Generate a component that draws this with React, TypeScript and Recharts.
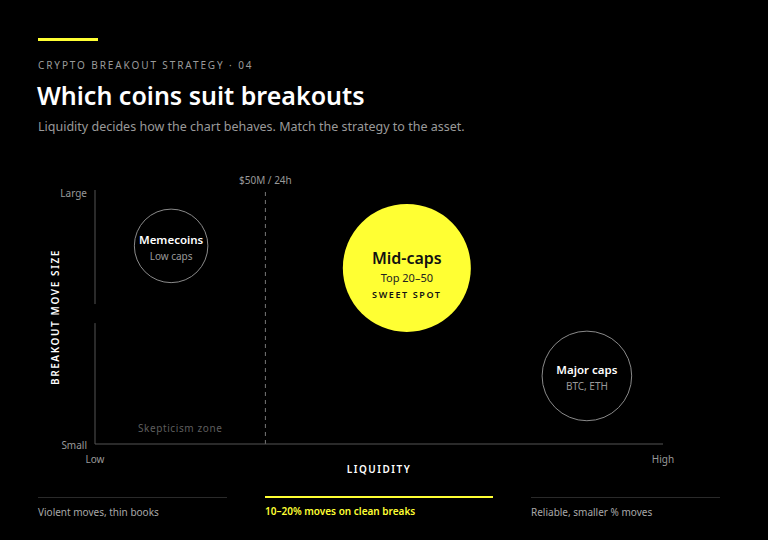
import {
  ScatterChart,
  Scatter,
  XAxis,
  YAxis,
  ZAxis,
  ReferenceLine,
  ReferenceDot,
} from 'recharts';

// Bubble data: liquidity (x), breakout move size (y), strategy fit (bubble area)
const segments = ['Memecoins', 'Mid-caps', 'Major caps'];
const segmentNotes = ['Low caps', 'Top 20–50', 'BTC, ETH'];
const liquidity = [13.4, 54.9, 86.6];
const moveSize = [78, 69.3, 26.8];
const fitScore = [33, 100, 49];

const xTickLabels = ['Low', 'High'];
const yTickLabels = ['Small', 'Large'];
const threshold = 30;
const thresholdLabel = '$50M / 24h';
const zoneLabel = 'Skepticism zone';
const footnotes = ['Violent moves, thin books', '10–20% moves on clean breaks', 'Reliable, smaller % moves'];

const YELLOW = '#ffff33';
const FONT = '"Noto Sans", "Open Sans", sans-serif';

const data = segments.map((name, i) => ({
  name,
  note: segmentNotes[i],
  x: liquidity[i],
  y: moveSize[i],
  z: fitScore[i],
}));

function Bubble(props: any) {
  const { cx, cy, width, payload } = props;
  const r = width / 2;
  const featured = payload.name === 'Mid-caps';
  if (featured) {
    return (
      <g>
        <circle cx={cx} cy={cy} r={r} fill={YELLOW} />
        <text x={cx} y={cy - 4} textAnchor="middle" fill="#111" fontSize={16} fontWeight={600} fontFamily={FONT}>
          {payload.name}
        </text>
        <text x={cx} y={cy + 14} textAnchor="middle" fill="#222" fontSize={11} fontFamily={FONT}>
          {payload.note}
        </text>
        <text x={cx} y={cy + 30} textAnchor="middle" fill="#111" fontSize={9} fontWeight={600} letterSpacing={1.6} fontFamily={FONT}>
          SWEET SPOT
        </text>
      </g>
    );
  }
  return (
    <g>
      <circle cx={cx} cy={cy} r={r} fill="#000" stroke="#8a8a8a" strokeWidth={1} />
      <text x={cx} y={cy - 2} textAnchor="middle" fill="#fff" fontSize={11.5} fontWeight={600} fontFamily={FONT}>
        {payload.name}
      </text>
      <text x={cx} y={cy + 14} textAnchor="middle" fill="#999" fontSize={10} fontFamily={FONT}>
        {payload.note}
      </text>
    </g>
  );
}

function XTick({ x, y, payload, index }: any) {
  return (
    <text x={x} y={y + 19} textAnchor="middle" fill="#999" fontSize={10} fontFamily={FONT}>
      {xTickLabels[index] ?? payload.value}
    </text>
  );
}

function YTick({ x, y, payload, index }: any) {
  return (
    <text x={x - 8} y={y + (index === 1 ? 7 : 5)} textAnchor="end" fill="#999" fontSize={10} fontFamily={FONT}>
      {yTickLabels[index] ?? payload.value}
    </text>
  );
}

export default function App() {
  return (
    <div
      style={{
        position: 'absolute',
        left: 0,
        top: 0,
        width: 768,
        height: 540,
        background: '#000',
        fontFamily: FONT,
        overflow: 'hidden',
      }}
    >
      <div style={{ position: 'absolute', left: 38, top: 38, width: 60, height: 3, background: YELLOW }} />
      <div
        style={{
          position: 'absolute',
          left: 38,
          top: 58,
          fontSize: 10,
          letterSpacing: 1.9,
          color: '#9a9a9a',
        }}
      >
        CRYPTO BREAKOUT STRATEGY · 04
      </div>
      <div
        style={{
          position: 'absolute',
          left: 37,
          top: 78,
          fontSize: 25,
          fontWeight: 600,
          color: '#fff',
        }}
      >
        Which coins suit breakouts
      </div>
      <div style={{ position: 'absolute', left: 38, top: 118, fontSize: 12.5, color: '#9a9a9a' }}>
        Liquidity decides how the chart behaves. Match the strategy to the asset.
      </div>

      <div style={{ position: 'absolute', left: 0, top: 0 }}>
        <ScatterChart width={768} height={540} margin={{ top: 190, right: 105, bottom: 95, left: 94 }}>
          <XAxis
            type="number"
            dataKey="x"
            domain={[0, 100]}
            ticks={[0, 100]}
            height={1}
            tickSize={0}
            tickMargin={0}
            tickLine={false}
            axisLine={{ stroke: '#555', strokeWidth: 1 }}
            tick={<XTick />}
            label={{
              content: ({ viewBox }: any) => (
                <text
                  x={viewBox.x + viewBox.width / 2}
                  y={viewBox.y + 29}
                  textAnchor="middle"
                  fill="#fff"
                  fontSize={10}
                  fontWeight={600}
                  letterSpacing={1.5}
                  fontFamily={FONT}
                >
                  LIQUIDITY
                </text>
              ),
            }}
          />
          <YAxis
            type="number"
            dataKey="y"
            domain={[0, 100]}
            ticks={[0, 100]}
            width={1}
            tickSize={0}
            tickMargin={0}
            tickLine={false}
            axisLine={false}
            tick={<YTick />}
            label={{
              content: ({ viewBox }: any) => {
                const lx = viewBox.x - 39;
                const ly = viewBox.y + viewBox.height / 2;
                return (
                  <text
                    x={lx}
                    y={ly}
                    transform={`rotate(-90 ${lx} ${ly})`}
                    textAnchor="middle"
                    dominantBaseline="central"
                    fill="#fff"
                    fontSize={10}
                    fontWeight={600}
                    letterSpacing={1.6}
                    fontFamily={FONT}
                  >
                    BREAKOUT MOVE SIZE
                  </text>
                );
              },
            }}
          />
          <ZAxis type="number" dataKey="z" domain={[0, 100]} range={[0, 12868]} />
          {/* y axis drawn in two pieces, leaving a small gap as in the original */}
          <ReferenceLine segment={[{ x: 0, y: 0 }, { x: 0, y: 47.6 }]} stroke="#555" />
          <ReferenceLine segment={[{ x: 0, y: 55.1 }, { x: 0, y: 100 }]} stroke="#555" />
          <ReferenceLine
            x={threshold}
            stroke="#777"
            strokeDasharray="4 4"
            label={{ value: thresholdLabel, position: 'top', fill: '#999', fontSize: 10, fontFamily: FONT, offset: 6 }}
          />
          <ReferenceDot
            x={15}
            y={6.3}
            r={0}
            stroke="none"
            label={{
              value: zoneLabel,
              position: 'center',
              fill: '#5e5e5e',
              fontSize: 10,
              letterSpacing: 0.6,
              fontFamily: FONT,
            }}
          />
          <Scatter data={data} shape={<Bubble />} isAnimationActive={false} />
        </ScatterChart>
      </div>

      {footnotes.map((t, i) => {
        const lefts = [38, 265, 531];
        const widths = [189, 228, 189];
        const hi = i === 1;
        return (
          <div
            key={t}
            style={{
              position: 'absolute',
              left: lefts[i],
              top: hi ? 496 : 497,
              width: widths[i],
              borderTop: hi ? `2px solid ${YELLOW}` : '1px solid #2a2a2a',
              paddingTop: hi ? 6 : 7,
              fontSize: 10,
              fontWeight: hi ? 600 : 400,
              color: hi ? YELLOW : '#a8a8a8',
            }}
          >
            {t}
          </div>
        );
      })}
    </div>
  );
}
